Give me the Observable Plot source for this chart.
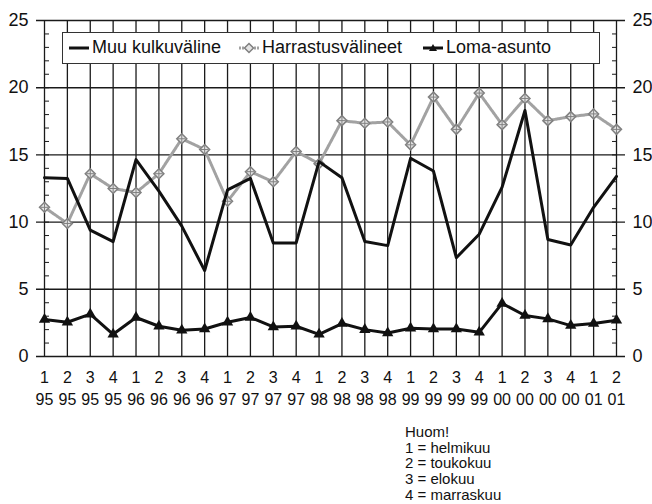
<!DOCTYPE html>
<html>
<head>
<meta charset="utf-8">
<script src="https://cdn.jsdelivr.net/npm/d3@7"></script>
<script src="https://cdn.jsdelivr.net/npm/@observablehq/plot@0.6"></script>
<style>
  html, body { margin: 0; padding: 0; background: #fff; }
  #wrap { position: relative; width: 652px; height: 504px; overflow: hidden; font-family: "Liberation Sans", Arial, sans-serif; }
  #legend { position: absolute; left: 62px; top: 32px; width: 536px; height: 30px; background: #fff; border: 1px solid #333; font-size: 18px; color: #111; }
  #legend .item { display: flex; align-items: center; position: absolute; top: 4px; }
  #legend svg { margin-right: 2px; }
  #note { position: absolute; left: 405px; top: 424px; font-size: 15px; line-height: 15.7px; color: #111; }
</style>
</head>
<body>
<div id="wrap">
  <div id="chart"></div>
  <div id="legend"></div>
  <div id="note"></div>
</div>
<script>
// Data
const quarters = [1,2,3,4, 1,2,3,4, 1,2,3,4, 1,2,3,4, 1,2,3,4, 1,2,3,4, 1,2];
const years = ["95","95","95","95","96","96","96","96","97","97","97","97","98","98","98","98","99","99","99","99","00","00","00","00","01","01"];
const muuKulkuvaline = [13.3, 13.25, 9.4, 8.55, 14.65, 12.3, 9.7, 6.4, 12.4, 13.25, 8.45, 8.45, 14.5, 13.3, 8.55, 8.25, 14.75, 13.8, 7.35, 9.1, 12.6, 18.3, 8.7, 8.3, 11.1, 13.4];
const harrastusvalineet = [11.1, 9.9, 13.6, 12.5, 12.2, 13.6, 16.2, 15.4, 11.55, 13.75, 13.0, 15.25, 14.35, 17.55, 17.35, 17.45, 15.75, 19.3, 16.9, 19.6, 17.25, 19.2, 17.55, 17.85, 18.05, 16.9];
const lomaAsunto = [2.75, 2.55, 3.15, 1.65, 2.9, 2.25, 1.95, 2.05, 2.55, 2.9, 2.2, 2.25, 1.65, 2.45, 2.0, 1.75, 2.1, 2.05, 2.05, 1.8, 3.95, 3.05, 2.8, 2.3, 2.45, 2.7];
const seriesNames = ["Muu kulkuväline", "Harrastusvälineet", "Loma-asunto"];
const yMajor = [0, 5, 10, 15, 20, 25];
const yMinor = d3.range(0, 26);
const noteLines = ["Huom!", "1 = helmikuu", "2 = toukokuu", "3 = elokuu", "4 = marraskuu"];

const idx = d3.range(quarters.length);
const rows = idx.map(i => ({i, muu: muuKulkuvaline[i], harr: harrastusvalineet[i], loma: lomaAsunto[i]}));

const font = "'Liberation Sans', Arial, sans-serif";
const grid = "#1a1a1a";
const grey = "#a2a2a2";

const chart = Plot.plot({
  width: 652,
  height: 414,
  marginTop: 20,
  marginBottom: 58,
  marginLeft: 44,
  marginRight: 36,
  style: {fontFamily: font, color: "#111", background: "white", overflow: "visible"},
  x: {domain: [0, 25], axis: null},
  y: {domain: [0, 25], axis: null},
  marks: [
    Plot.ruleX(idx, {x: d => d, y1: 0, y2: 25, stroke: grid, strokeWidth: 1.3}),
    Plot.ruleY(yMajor, {y: d => d, insetLeft: -8, insetRight: -9, stroke: grid, strokeWidth: 1.4}),
    Plot.axisY(yMinor, {anchor: "left", tickSize: -5, tickFormat: () => "", stroke: grid, strokeWidth: 1, label: null}),
    Plot.axisY(yMinor, {anchor: "right", tickSize: -5, tickFormat: () => "", stroke: grid, strokeWidth: 1, label: null}),
    Plot.axisY(yMajor, {anchor: "left", tickSize: 0, tickPadding: 16, fontSize: 18, label: null}),
    Plot.axisY(yMajor, {anchor: "right", tickSize: 0, tickPadding: 16, fontSize: 18, label: null}),
    Plot.axisX(idx, {anchor: "bottom", tickSize: 0, tickPadding: 15, tickFormat: i => quarters[i], fontSize: 16, label: null}),
    Plot.axisX(idx, {anchor: "bottom", tickSize: 0, tickPadding: 37, tickFormat: i => years[i], fontSize: 16, label: null}),
    // Harrastusvälineet
    Plot.line(rows, {x: "i", y: "harr", stroke: grey, strokeWidth: 3, strokeDasharray: "2,1"}),
    Plot.dot(rows, {x: "i", y: "harr", symbol: "diamond2", r: 4.5, stroke: "#808080", strokeWidth: 1.5, fill: "#e4e4e4"}),
    Plot.dot(rows, {x: "i", y: "harr", symbol: "plus", r: 2.6, stroke: "#808080", strokeWidth: 1}),
    // Muu kulkuväline
    Plot.line(rows, {x: "i", y: "muu", stroke: "#111", strokeWidth: 3}),
    // Loma-asunto
    Plot.line(rows, {x: "i", y: "loma", stroke: "#111", strokeWidth: 3}),
    Plot.dot(rows, {x: "i", y: "loma", symbol: "triangle", r: 4.2, fill: "#111", stroke: "none"})
  ]
});
document.getElementById("chart").appendChild(chart);

// Legend
const legend = document.getElementById("legend");
const legendItems = [
  {name: seriesNames[0], left: 5, sym: `<line x1="1" y1="10" x2="21" y2="10" stroke="#111" stroke-width="3"/>`},
  {name: seriesNames[1], left: 175, sym: `<line x1="1" y1="10" x2="21" y2="10" stroke="${grey}" stroke-width="3" stroke-dasharray="2,1"/><path d="M11,5.5 L15.5,10 L11,14.5 L6.5,10 Z" fill="#e4e4e4" stroke="#808080" stroke-width="1.5"/>`},
  {name: seriesNames[2], left: 359, sym: `<line x1="1" y1="10" x2="21" y2="10" stroke="#111" stroke-width="3"/><path d="M11,6 L15,13 L7,13 Z" fill="#111"/>`}
];
legendItems.forEach(it => {
  const d = document.createElement("div");
  d.className = "item";
  d.style.left = it.left + "px";
  d.innerHTML = `<svg width="22" height="20">${it.sym}</svg><span>${it.name}</span>`;
  legend.appendChild(d);
});

// Note
document.getElementById("note").innerHTML = noteLines.map(t => `<div>${t}</div>`).join("");
</script>
</body>
</html>
